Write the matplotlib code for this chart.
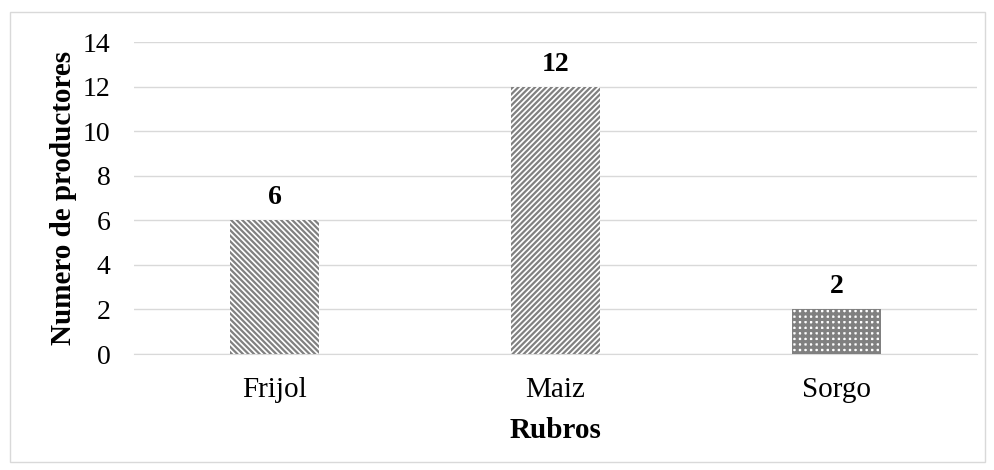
import matplotlib
matplotlib.use("Agg")
import matplotlib.pyplot as plt
from matplotlib.patches import Rectangle

categories = ["Frijol", "Maiz", "Sorgo"]
values = [6, 12, 2]
hatches = ["\\" * 6, "/" * 6, "+" * 3]
yticks = [0, 2, 4, 6, 8, 10, 12, 14]

plt.rcParams['font.family'] = ['Liberation Serif', 'DejaVu Serif']

fig = plt.figure(figsize=(9.94, 4.70), dpi=100)
fig.patches.append(Rectangle((10/994, 1-462/470), 975/994, 450/470, transform=fig.transFigure,
                             fill=False, edgecolor='#d9d9d9', linewidth=1.0))
ax = fig.add_axes([134/994, 1-354/470, (977-134)/994, (354-42)/470])

for i, (c, v, h) in enumerate(zip(categories, values, hatches)):
    with plt.rc_context({'hatch.linewidth': 1.6 if i < 2 else 2.3, 'hatch.color': '#808080'}):
        ax.bar(i, v, width=0.32, color='white', edgecolor='#808080', hatch=h, linewidth=0, zorder=3)
    ax.text(i, v + 0.45, str(v), ha='center', va='bottom', fontsize=20, fontweight='bold')

ax.set_xlim(-0.5, 2.5)
ax.set_ylim(0, 14)
ax.set_yticks(yticks)
ax.set_xticks(range(len(categories)))
ax.set_xticklabels(categories, fontsize=21)
ax.tick_params(axis='y', labelsize=20, length=0, pad=17)
ax.tick_params(axis='x', length=0, pad=16.5)
ax.yaxis.grid(True, color='#d9d9d9', linewidth=1, zorder=0)
ax.set_axisbelow(True)
for s in ['top', 'right', 'left']:
    ax.spines[s].set_visible(False)
ax.spines['bottom'].set_color('#d9d9d9')
ax.set_ylabel("Numero de productores", fontsize=21, fontweight='bold', labelpad=4)
ax.set_xlabel("Rubros", fontsize=21, fontweight='bold', labelpad=10)

fig.savefig("out.png", dpi=100)
